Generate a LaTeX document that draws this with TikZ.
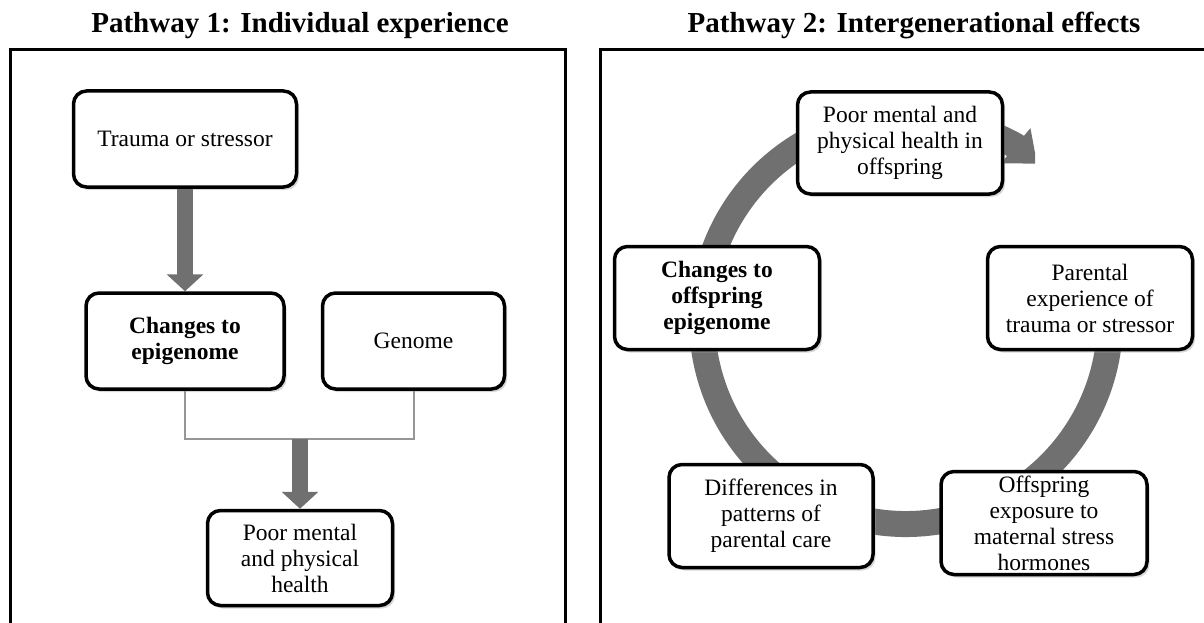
\documentclass[tikz,border=0pt]{standalone}
\usepackage{fontspec}
\setmainfont{Liberation Serif}
\usetikzlibrary{arrows.meta, positioning, shadows, backgrounds}

\definecolor{flowgray}{RGB}{112,112,112}
\definecolor{brackgray}{RGB}{150,150,150}

\begin{document}
\begin{tikzpicture}[
  x=1pt, y=-1pt,
  box/.style={rectangle, draw, line width=3.5pt, rounded corners=13pt, fill=white,
              align=center, inner sep=3pt, font=\fontsize{23.5}{26}\selectfont,
              drop shadow={shadow xshift=2.5pt, shadow yshift=-3pt, fill=black!35, opacity=.45}},
  keybox/.style={box, font=\fontsize{23.5}{26}\selectfont\bfseries},
  bigarr/.style={-{Triangle[length=17pt, width=36pt]}, line width=16pt, flowgray},
  bracket/.style={line width=2pt, brackgray},
  ring/.style={line width=26pt, flowgray},
  title/.style={font=\fontsize{29}{31}\selectfont\bfseries, anchor=base},
  panel/.style={line width=3pt},
]
\useasboundingbox (0,0) rectangle (1204,623);

% titles and frames
\node[title] (title1) at (300,33) {Pathway 1: Individual experience};
\node[title] (title2) at (914,33) {Pathway 2: Intergenerational effects};
\draw[panel] (10,628) rectangle (565,50);
\draw[panel] (600,628) rectangle (1212,50);

% pathway 1
\node[box, minimum width=223pt, minimum height=96pt] (trauma) at (185,139) {Trauma or stressor};
\node[keybox, minimum width=198pt, minimum height=96pt] (epi) at (185,341) {Changes to\\epigenome};
\node[box, minimum width=182pt, minimum height=96pt, right=35pt of epi] (genome) {Genome};
\node[box, minimum width=185pt, minimum height=95pt] (health) at (300,558) {Poor mental\\and physical\\health};
\coordinate (join) at (300,439);

\draw[bigarr] (trauma.south) -- (epi.north);
\draw[bracket] (epi.south) |- (join) -| (genome.south);
\draw[bigarr] (join) -- (health.north);

% pathway 2
\node[box, minimum width=205pt, minimum height=102pt] (offhealth) at (900,143) {Poor mental and\\physical health in\\offspring};
\node[keybox, minimum width=205pt, minimum height=103pt] (offepi) at (717,298) {Changes to\\offspring\\epigenome};
\node[box, minimum width=205pt, minimum height=103pt] (parent) at (1090,298) {Parental\\experience of\\trauma or stressor};
\node[box, minimum width=204pt, minimum height=103pt] (care) at (771,516) {Differences in\\patterns of\\parental care};
\node[box, minimum width=206pt, minimum height=103pt] (hormone) at (1044,523) {Offspring\\exposure to\\maternal stress\\hormones};
\coordinate (ringc) at (906,320);

\begin{scope}[on background layer]
  \draw[ring] (ringc) ++(-12:204) arc[start angle=-12, end angle=290, radius=204];
  \clip (0,0) rectangle (1035,623);
  \draw[ring, -{Triangle[length=28pt, width=44pt]}] (ringc) ++(-75:204)
    arc[start angle=-75, end angle=-50, radius=204];
\end{scope}
\end{tikzpicture}
\end{document}
